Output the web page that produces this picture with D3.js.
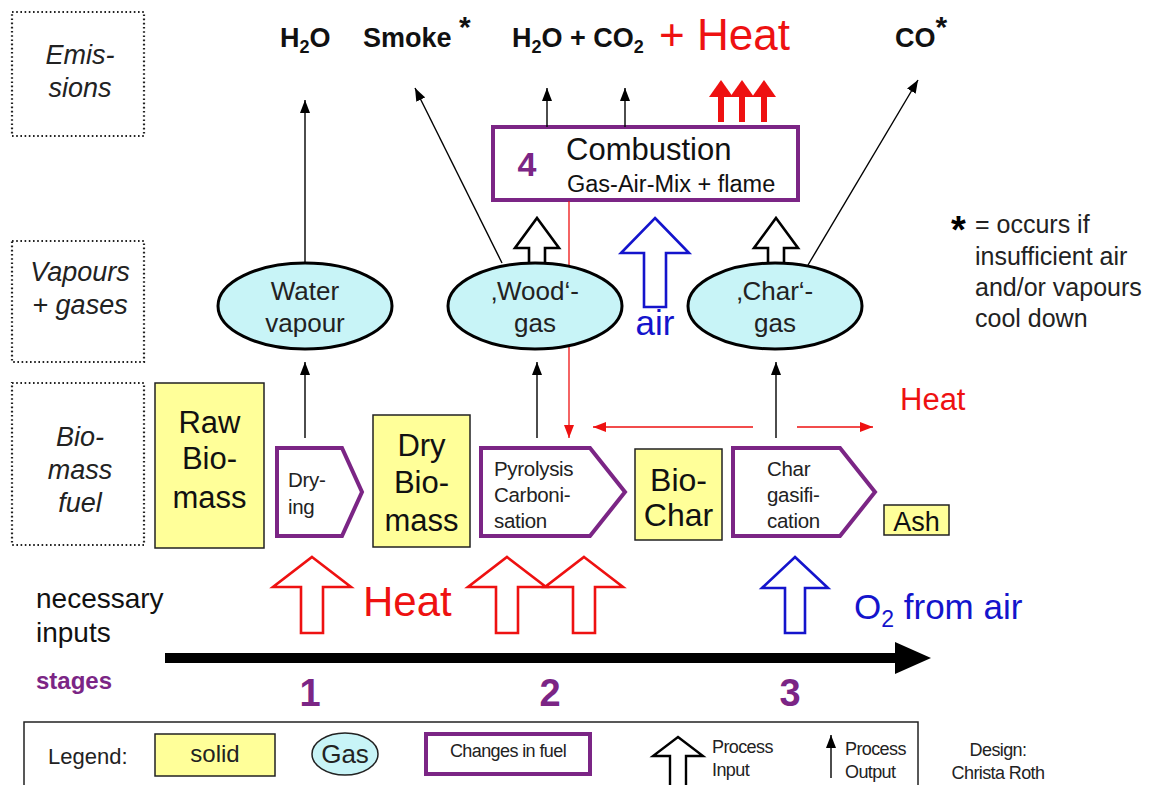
<!DOCTYPE html>
<html>
<head>
<meta charset="utf-8">
<script src="https://cdn.jsdelivr.net/npm/d3@7"></script>
<style>
  body { margin: 0; background: #fff; }
  svg { display: block; font-family: "Liberation Sans", Arial, sans-serif; }
</style>
</head>
<body>
<div id="chart"></div>
<script>
// Biomass conversion stages diagram

// ---- content ----
const rowLabels = [['Emis-', 'sions'], ['Vapours', '+ gases'], ['Bio-', 'mass', 'fuel']]
const solidLabels = [['Raw', 'Bio-', 'mass'], ['Dry', 'Bio-', 'mass'], ['Bio-', 'Char'], ['Ash']]
const gasLabels = [['Water', 'vapour'], ['\u201AWood\u2018-', 'gas'], ['\u201AChar\u2018-', 'gas']]
const processLabels = [['Dry-', 'ing'], ['Pyrolysis', 'Carboni-', 'sation'], ['Char', 'gasifi-', 'cation']]
const stageNumbers = ['1', '2', '3']
const combustionLabels = ['4', 'Combustion', 'Gas-Air-Mix + flame']
const footnoteLines = ['= occurs if', 'insufficient air', 'and/or vapours', 'cool down']
const inputLabels = ['necessary', 'inputs']
const legendLabels = ['Legend:', 'solid', 'Gas', 'Changes in fuel', ['Process', 'Input'], ['Process', 'Output'], ['Design:', 'Christa Roth']]

// ---- layout ----
const width = 1153
const height = 785
const purple = '#7b2585'
const red = '#ee1111'
const blue = '#1414cc'
const yellow = '#ffff99'
const cyan = '#c8f4f7'

const rowBoxes = [
  { x: 12, y: 12, w: 132, h: 124, lines: [64, 97] },
  { x: 12, y: 241, w: 132, h: 121, lines: [281, 314] },
  { x: 12, y: 383, w: 132, h: 162, lines: [446, 479, 512] }
]
const solidBoxes = [
  { x: 155, y: 383, w: 109, h: 165, size: 31, lines: [433, 469, 508] },
  { x: 373, y: 415, w: 97, h: 132, size: 31, lines: [456, 493, 531] },
  { x: 635, y: 449, w: 87, h: 91, size: 32, lines: [491, 526] },
  { x: 884, y: 505, w: 65, h: 30, size: 27, lines: [531] }
]
const gasEllipses = [
  { cx: 305, cy: 306, rx: 87, ry: 43 },
  { cx: 535, cy: 306, rx: 87, ry: 43 },
  { cx: 775, cy: 306, rx: 87, ry: 43 }
]
const processShapes = [
  { l: 277, r: 342, p: 362, t: 448, b: 536, tx: 288, lines: [487, 514] },
  { l: 481, r: 590, p: 625, t: 448, b: 536, tx: 494, lines: [476, 502, 528] },
  { l: 733, r: 840, p: 875, t: 448, b: 536, tx: 767, lines: [476, 502, 528] }
]

const svg = d3.select('#chart')
  .append('svg')
  .attr('width', width)
  .attr('height', height)

const defs = svg.append('defs')
function marker (id, color, w, h) {
  defs.append('marker')
    .attr('id', id)
    .attr('viewBox', `0 0 ${w} ${h}`)
    .attr('refX', w)
    .attr('refY', h / 2)
    .attr('markerUnits', 'userSpaceOnUse')
    .attr('markerWidth', w)
    .attr('markerHeight', h)
    .attr('orient', 'auto')
    .append('path')
    .attr('d', `M0,0L${w},${h / 2}L0,${h}Z`)
    .attr('fill', color)
}
marker('blk', '#000', 13, 10)
marker('red', red, 13, 10)

const line = d3.line()

function arrow (pts, color, id, sw) {
  svg.append('path')
    .attr('d', line(pts))
    .attr('stroke', color)
    .attr('stroke-width', sw || 1.4)
    .attr('fill', 'none')
    .attr('marker-end', `url(#${id})`)
}

// hollow block arrow pointing up
function blockArrow (g, cx, tip, base, head, shaft, bottom, color, sw) {
  const pts = [[cx, tip], [cx + head, base], [cx + shaft, base], [cx + shaft, bottom],
    [cx - shaft, bottom], [cx - shaft, base], [cx - head, base]]
  g.append('path')
    .attr('d', line(pts) + 'Z')
    .attr('fill', '#fff')
    .attr('stroke', color)
    .attr('stroke-width', sw)
    .attr('stroke-linejoin', 'miter')
}

function multiText (g, lines, x, ys, opts) {
  const t = g.append('text')
    .attr('x', x)
    .attr('text-anchor', opts.anchor || 'middle')
    .attr('font-size', opts.size)
    .attr('fill', opts.color || '#111')
    .attr('font-style', opts.italic ? 'italic' : null)
    .attr('font-weight', opts.bold ? 'bold' : null)
    .attr('letter-spacing', opts.ls || null)
  lines.forEach((s, i) => {
    t.append('tspan').attr('x', x).attr('y', ys[i]).text(s)
  })
  return t
}

// ---- row label boxes (dotted) ----
rowBoxes.forEach((b, i) => {
  svg.append('rect')
    .attr('x', b.x).attr('y', b.y).attr('width', b.w).attr('height', b.h)
    .attr('fill', 'none').attr('stroke', '#222').attr('stroke-width', 2.2)
    .attr('stroke-dasharray', '1.6,2.6')
  multiText(svg, rowLabels[i], b.x + b.w / 2 + 2, b.lines, { size: 27, italic: true, color: '#222' })
})

// ---- emissions on top ----
const em = svg.append('g').attr('font-weight', 'bold').attr('font-size', 27).attr('fill', '#111')
function formula (x, y, parts) {
  const t = em.append('text').attr('x', x).attr('y', y)
  parts.forEach(p => {
    const s = t.append('tspan').text(p.t)
    if (p.sub) s.attr('font-size', 18).attr('dy', 6)
    if (p.sup) s.attr('font-size', 30).attr('dy', -10)
    if (p.back) s.attr('dy', p.back)
    if (p.color) s.attr('fill', p.color)
  })
  return t
}
formula(280, 47, [{ t: 'H' }, { t: '2', sub: true }, { t: 'O', back: -6 }])
formula(363, 47, [{ t: 'Smoke ' }, { t: '*', sup: true }])
formula(512, 47, [{ t: 'H' }, { t: '2', sub: true }, { t: 'O + CO', back: -6 }, { t: '2', sub: true }])
svg.append('text').attr('x', 659).attr('y', 50).attr('font-size', 44).attr('fill', red).text('+ Heat')
formula(895, 47, [{ t: 'CO' }, { t: '*', sup: true }])

// ---- combustion box ----
svg.append('rect')
  .attr('x', 493).attr('y', 127).attr('width', 305).attr('height', 73)
  .attr('fill', '#fff').attr('stroke', purple).attr('stroke-width', 4)
svg.append('text').attr('x', 527).attr('y', 176).attr('text-anchor', 'middle')
  .attr('font-size', 34).attr('font-weight', 'bold').attr('fill', purple).text(combustionLabels[0])
svg.append('text').attr('x', 566).attr('y', 160).attr('font-size', 31).attr('fill', '#111').text(combustionLabels[1])
svg.append('text').attr('x', 567).attr('y', 192).attr('font-size', 23.5).attr('fill', '#111').text(combustionLabels[2])

// outputs of combustion
arrow([[547, 127], [547, 88]], '#000', 'blk')
arrow([[625, 127], [625, 88]], '#000', 'blk')
;[721, 742, 764].forEach(x => {
  svg.append('line').attr('x1', x).attr('x2', x).attr('y1', 122).attr('y2', 92)
    .attr('stroke', red).attr('stroke-width', 6)
  svg.append('path').attr('d', line([[x - 12, 97], [x, 80], [x + 12, 97]]) + 'Z').attr('fill', red)
})

// ---- vertical output arrows ----
arrow([[305, 262], [305, 100]], '#000', 'blk')
arrow([[502, 263], [415, 88]], '#000', 'blk')
arrow([[808, 265], [918, 80]], '#000', 'blk')
arrow([[305, 438], [305, 362]], '#000', 'blk')
arrow([[537, 438], [537, 362]], '#000', 'blk')
arrow([[776, 438], [776, 362]], '#000', 'blk')

// ---- red heat flow lines ----
arrow([[569, 201], [569, 438]], red, 'red', 1.3)
arrow([[753, 427], [593, 427]], red, 'red', 1.3)
arrow([[797, 427], [873, 427]], red, 'red', 1.3)
svg.append('text').attr('x', 900).attr('y', 410).attr('font-size', 31).attr('fill', red).text('Heat')

// ---- process input arrows into combustion ----
blockArrow(svg, 537, 218, 248, 22, 8, 264, '#000', 2.6)
blockArrow(svg, 776, 218, 248, 22, 8, 264, '#000', 2.6)
blockArrow(svg, 655, 218, 253, 34, 11, 307, blue, 2.6)
svg.append('text').attr('x', 655).attr('y', 335).attr('text-anchor', 'middle')
  .attr('font-size', 35).attr('fill', blue).text('air')

// ---- gas ellipses ----
gasEllipses.forEach((e, i) => {
  svg.append('ellipse')
    .attr('cx', e.cx).attr('cy', e.cy).attr('rx', e.rx).attr('ry', e.ry)
    .attr('fill', cyan).attr('stroke', '#000').attr('stroke-width', 3)
  multiText(svg, gasLabels[i], e.cx, [e.cy - 6, e.cy + 26], { size: 26, color: '#222' })
})

// ---- solids ----
solidBoxes.forEach((b, i) => {
  svg.append('rect')
    .attr('x', b.x).attr('y', b.y).attr('width', b.w).attr('height', b.h)
    .attr('fill', yellow).attr('stroke', '#222').attr('stroke-width', 1.5)
  multiText(svg, solidLabels[i], b.x + b.w / 2, b.lines, { size: b.size, color: '#111' })
})

// ---- process pentagons ----
processShapes.forEach((p, i) => {
  const mid = (p.t + p.b) / 2
  svg.append('path')
    .attr('d', line([[p.l, p.t], [p.r, p.t], [p.p, mid], [p.r, p.b], [p.l, p.b]]) + 'Z')
    .attr('fill', '#fff').attr('stroke', purple).attr('stroke-width', 4)
  multiText(svg, processLabels[i], p.tx, p.lines, { size: 20.5, anchor: 'start', color: '#222', ls: -0.3 })
})

// ---- footnote ----
svg.append('text').attr('x', 951).attr('y', 243).attr('font-size', 38).attr('font-weight', 'bold').text('*')
multiText(svg, footnoteLines, 975, [233, 265, 296, 327], { size: 25, anchor: 'start', color: '#222' })

// ---- necessary inputs ----
multiText(svg, inputLabels, 36, [608, 642], { size: 28, anchor: 'start', color: '#111' })
svg.append('text').attr('x', 36).attr('y', 689).attr('font-size', 24).attr('font-weight', 'bold')
  .attr('fill', purple).text('stages')

const heatArrows = [312, 507, 584]
heatArrows.forEach(cx => blockArrow(svg, cx, 557, 587, 39, 11, 633, red, 2.6))
svg.append('text').attr('x', 363).attr('y', 616).attr('font-size', 42).attr('fill', red).text('Heat')

blockArrow(svg, 795, 557, 588, 33, 10, 633, blue, 2.6)
const o2 = svg.append('text').attr('x', 854).attr('y', 619).attr('font-size', 35).attr('fill', blue)
o2.append('tspan').text('O')
o2.append('tspan').attr('font-size', 23).attr('dy', 8).text('2')
o2.append('tspan').attr('dy', -8).text(' from air')

// ---- time arrow + stages ----
svg.append('line').attr('x1', 165).attr('x2', 897).attr('y1', 658).attr('y2', 658)
  .attr('stroke', '#000').attr('stroke-width', 10)
svg.append('path').attr('d', line([[895, 642], [931, 658], [895, 674]]) + 'Z').attr('fill', '#000')

const stageX = d3.scalePoint().domain(stageNumbers).range([310, 790])
svg.selectAll('.stage').data(stageNumbers).join('text')
  .attr('class', 'stage')
  .attr('x', d => stageX(d)).attr('y', 706).attr('text-anchor', 'middle')
  .attr('font-size', 38).attr('font-weight', 'bold').attr('fill', purple)
  .text(d => d)

// ---- legend ----
const lg = svg.append('g')
lg.append('rect').attr('x', 24).attr('y', 722).attr('width', 894).attr('height', 70)
  .attr('fill', '#fff').attr('stroke', '#222').attr('stroke-width', 1.5)
lg.append('text').attr('x', 48).attr('y', 764).attr('font-size', 22).attr('fill', '#222').text(legendLabels[0])
lg.append('rect').attr('x', 155).attr('y', 734).attr('width', 120).attr('height', 42)
  .attr('fill', yellow).attr('stroke', '#222').attr('stroke-width', 1.5)
lg.append('text').attr('x', 215).attr('y', 762).attr('text-anchor', 'middle').attr('font-size', 24).attr('fill', '#222').text(legendLabels[1])
lg.append('ellipse').attr('cx', 345).attr('cy', 754).attr('rx', 33).attr('ry', 21)
  .attr('fill', cyan).attr('stroke', '#222').attr('stroke-width', 1.5)
lg.append('text').attr('x', 345).attr('y', 763).attr('text-anchor', 'middle').attr('font-size', 26).attr('fill', '#222').text(legendLabels[2])
lg.append('rect').attr('x', 426).attr('y', 734).attr('width', 164).attr('height', 40)
  .attr('fill', '#fff').attr('stroke', purple).attr('stroke-width', 4)
lg.append('text').attr('x', 508).attr('y', 757).attr('text-anchor', 'middle').attr('font-size', 18)
  .attr('letter-spacing', -0.6).attr('fill', '#222').text(legendLabels[3])
blockArrow(lg, 678, 737, 756, 25, 8, 790, '#000', 2.4)
multiText(lg, legendLabels[4], 712, [753, 776], { size: 18, anchor: 'start', color: '#222', ls: -0.6 })
lg.append('line').attr('x1', 831).attr('x2', 831).attr('y1', 778).attr('y2', 735)
  .attr('stroke', '#000').attr('stroke-width', 1.4).attr('marker-end', 'url(#blk)')
multiText(lg, legendLabels[5], 845, [755, 778], { size: 18, anchor: 'start', color: '#222', ls: -0.6 })
multiText(svg, legendLabels[6], 998, [756, 779], { size: 18, color: '#222', ls: -0.6 })
</script>
</body>
</html>
